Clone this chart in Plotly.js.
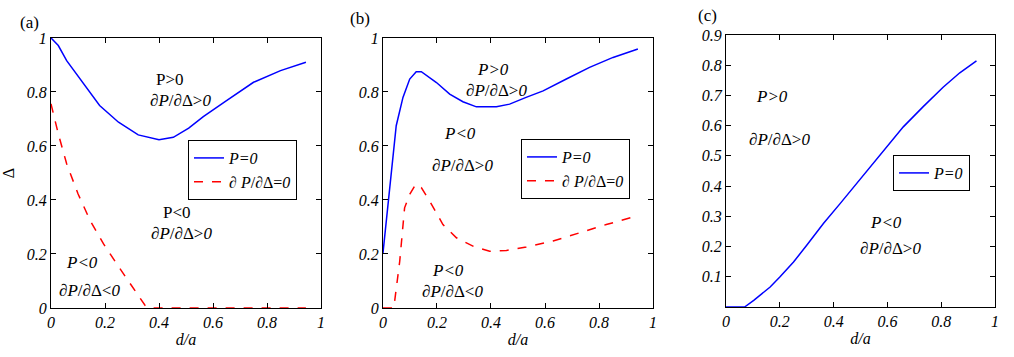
<!DOCTYPE html>
<html>
<head>
<meta charset="utf-8">
<script src="https://cdn.plot.ly/plotly-3.0.1.min.js"></script>
<style>
  html, body { margin: 0; padding: 0; background: #fff; }
  #chart { width: 1014px; height: 357px; }
</style>
</head>
<body>
<div id="chart"></div>
<script>
// panel (a)
var aPzeroX = [0, 0.027, 0.058, 0.12, 0.18, 0.25, 0.323, 0.4, 0.453, 0.51, 0.564, 0.65, 0.75, 0.85, 0.944];
var aPzeroY = [1.0, 0.972, 0.916, 0.83, 0.75, 0.688, 0.641, 0.623, 0.632, 0.666, 0.709, 0.768, 0.836, 0.879, 0.91];
var aDerivX = [0, 0.027, 0.058, 0.1, 0.145, 0.194, 0.243, 0.3, 0.348, 0.36, 0.5, 0.7, 0.944];
var aDerivY = [0.756, 0.645, 0.534, 0.423, 0.324, 0.238, 0.164, 0.078, 0.01, 0, 0, 0, 0];

// panel (b)
var bPzeroX = [0, 0.025, 0.049, 0.074, 0.099, 0.123, 0.142, 0.198, 0.247, 0.296, 0.346, 0.42, 0.469, 0.53, 0.593, 0.679, 0.765, 0.852, 0.926, 0.944];
var bPzeroY = [0.204, 0.446, 0.675, 0.78, 0.848, 0.875, 0.875, 0.835, 0.792, 0.764, 0.745, 0.745, 0.755, 0.78, 0.804, 0.848, 0.891, 0.928, 0.955, 0.959];
var bDerivX = [0, 0.04, 0.062, 0.08, 0.099, 0.121, 0.142, 0.173, 0.222, 0.272, 0.333, 0.395, 0.457, 0.531, 0.63, 0.728, 0.827, 0.938];
var bDerivY = [0, 0, 0.173, 0.371, 0.421, 0.458, 0.446, 0.396, 0.309, 0.26, 0.229, 0.21, 0.213, 0.226, 0.248, 0.278, 0.309, 0.34];

// panel (c)
var cPzeroX = [0, 0.069, 0.103, 0.164, 0.2, 0.251, 0.3, 0.362, 0.424, 0.486, 0.548, 0.603, 0.659, 0.733, 0.807, 0.869, 0.931];
var cPzeroY = [0, 0, 0.022, 0.066, 0.099, 0.149, 0.204, 0.276, 0.342, 0.409, 0.475, 0.536, 0.596, 0.663, 0.727, 0.775, 0.814];

var ticks01 = [0, 0.2, 0.4, 0.6, 0.8, 1];
var tickText01 = ['0', '0.2', '0.4', '0.6', '0.8', '1'];
var ticksC = [0.1, 0.2, 0.3, 0.4, 0.5, 0.6, 0.7, 0.8, 0.9];
var tickTextC = ['0.1', '0.2', '0.3', '0.4', '0.5', '0.6', '0.7', '0.8', '0.9'];

var serif = 'Liberation Serif';
var blue = '#0000ff';
var red = '#ff0000';

function line(x, y, name, color, dash, xa, ya, legend) {
  return {
    x: x, y: y, name: name, type: 'scatter', mode: 'lines',
    xaxis: xa, yaxis: ya, legend: legend, showlegend: true,
    line: { color: color, width: 1.5, dash: dash },
  };
}

var data = [
  line(aPzeroX, aPzeroY, '<i>P=0</i>', blue, 'solid', 'x', 'y', 'legend'),
  line(aDerivX, aDerivY, '∂ <i>P</i>/∂Δ=<i>0</i>', red, 'dash', 'x', 'y', 'legend'),
  line(bPzeroX, bPzeroY, '<i>P=0</i>', blue, 'solid', 'x2', 'y2', 'legend2'),
  line(bDerivX, bDerivY, '∂ <i>P</i>/∂Δ=<i>0</i>', red, 'dash', 'x2', 'y2', 'legend2'),
  line(cPzeroX, cPzeroY, '<i>P=0</i>', blue, 'solid', 'x3', 'y3', 'legend3'),
];

// italic tick labels via <i> tags
var italic = function (t) { return '<i>' + t + '</i>'; };

function xaxis(dom, anchor) {
  return {
    domain: dom, anchor: anchor, range: [0, 1],
    tickvals: ticks01, ticktext: tickText01.map(italic),
    ticks: 'inside', ticklen: 5, tickcolor: '#000',
    showline: true, linecolor: '#000', linewidth: 1, mirror: 'ticks',
    showgrid: false, zeroline: false,
    tickfont: { family: serif, size: 16, color: '#000' },
    title: { text: '<i>d/a</i>', font: { family: serif, size: 16, color: '#000' }, standoff: 3 },
  };
}
function yaxis(dom, anchor, range, tv, tt, title) {
  return {
    domain: dom, anchor: anchor, range: range,
    tickvals: tv, ticktext: tt.map(italic),
    ticks: 'inside', ticklen: 5, tickcolor: '#000',
    showline: true, linecolor: '#000', linewidth: 1, mirror: 'ticks',
    showgrid: false, zeroline: false,
    tickfont: { family: serif, size: 16, color: '#000' },
    title: { text: title, font: { family: serif, size: 16, color: '#000' }, standoff: 8 },
  };
}

function note(text, x, y, xref, yref) {
  return {
    text: text, x: x, y: y, xref: xref, yref: yref, showarrow: false,
    font: { family: serif, size: 17, color: '#000' },
  };
}
function label(text, x, y) {
  return {
    text: text, x: x, y: y, xref: 'paper', yref: 'paper', showarrow: false,
    xanchor: 'center', yanchor: 'middle',
    font: { family: serif, size: 17, color: '#000' },
  };
}

var legendStyle = {
  xref: 'paper', yref: 'paper', xanchor: 'left', yanchor: 'top',
  bgcolor: '#fff', bordercolor: '#000', borderwidth: 1,
  font: { family: serif, size: 16, color: '#000' },
  tracegroupgap: 0,
};

var layout = {
  width: 1014, height: 357,
  margin: { l: 0, r: 0, t: 0, b: 0 },
  paper_bgcolor: '#fff', plot_bgcolor: '#fff',
  xaxis: xaxis([0.0503, 0.3166], 'y'),
  yaxis: yaxis([0.1373, 0.8936], 'x', [0, 1], ticks01, tickText01, 'Δ'),
  xaxis2: xaxis([0.3777, 0.6440], 'y2'),
  yaxis2: yaxis([0.1373, 0.8936], 'x2', [0, 1], ticks01, tickText01, ''),
  xaxis3: xaxis([0.7160, 0.9813], 'y3'),
  yaxis3: yaxis([0.1401, 0.9020], 'x3', [0, 0.9], ticksC, tickTextC, ''),
  legend: Object.assign({ x: 0.1854, y: 0.6078 }, legendStyle),
  legend2: Object.assign({ x: 0.5138, y: 0.6106 }, legendStyle),
  legend3: Object.assign({ x: 0.8807, y: 0.5658 }, legendStyle),
  annotations: [
    label('(a)', 29 / 1014, 1 - 22 / 357),
    label('(b)', 360 / 1014, 1 - 18 / 357),
    label('(c)', 707 / 1014, 1 - 16 / 357),
    note('P&gt;0', 0.44, 0.848, 'x', 'y'),
    note('∂<i>P</i>/∂Δ&gt;<i>0</i>', 0.478, 0.768, 'x', 'y'),
    note('P&lt;0', 0.465, 0.353, 'x', 'y'),
    note('∂<i>P</i>/∂Δ&gt;<i>0</i>', 0.484, 0.275, 'x', 'y'),
    note('<i>P&lt;0</i>', 0.114, 0.17, 'x', 'y'),
    note('∂<i>P</i>/∂Δ&lt;<i>0</i>', 0.144, 0.065, 'x', 'y'),
    note('<i>P&gt;0</i>', 0.407, 0.885, 'x2', 'y2'),
    note('∂<i>P</i>/∂Δ&gt;<i>0</i>', 0.42, 0.804, 'x2', 'y2'),
    note('<i>P&lt;0</i>', 0.284, 0.646, 'x2', 'y2'),
    note('∂<i>P</i>/∂Δ&gt;<i>0</i>', 0.296, 0.526, 'x2', 'y2'),
    note('<i>P&lt;0</i>', 0.24, 0.139, 'x2', 'y2'),
    note('∂<i>P</i>/∂Δ&lt;<i>0</i>', 0.259, 0.062, 'x2', 'y2'),
    note('<i>P&gt;0</i>', 0.171, 0.696, 'x3', 'y3'),
    note('∂<i>P</i>/∂Δ&gt;<i>0</i>', 0.199, 0.554, 'x3', 'y3'),
    note('<i>P&lt;0</i>', 0.595, 0.278, 'x3', 'y3'),
    note('∂<i>P</i>/∂Δ&gt;<i>0</i>', 0.612, 0.193, 'x3', 'y3'),
  ],
};

Plotly.newPlot('chart', data, layout, { displayModeBar: false });
</script>
</body>
</html>
